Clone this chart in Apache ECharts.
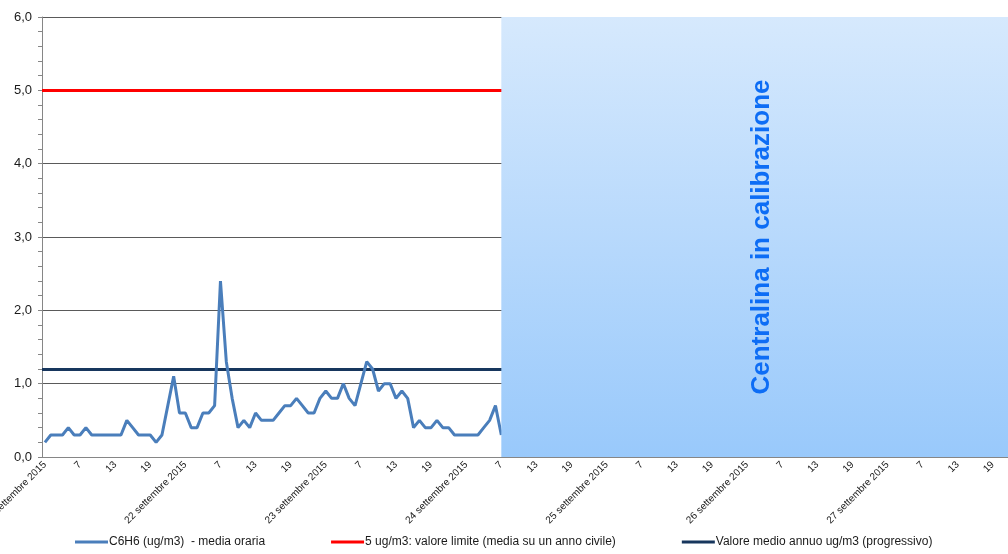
<!DOCTYPE html>
<html>
<head>
<meta charset="utf-8">
<script src="https://cdn.jsdelivr.net/npm/echarts@6/dist/echarts.min.js"></script>
<style>
  html, body { margin: 0; padding: 0; background: #fff; }
  #main { width: 1008px; height: 554px; }
</style>
</head>
<body>
<div id="main"></div>
<script>
// giorni e ore (medie orarie 1..24)
const days = ['21 settembre 2015', '22 settembre 2015', '23 settembre 2015', '24 settembre 2015',
  '25 settembre 2015', '26 settembre 2015', '27 settembre 2015']
const hours = [1, 2, 3, 4, 5, 6, 7, 8, 9, 10, 11, 12, 13, 14, 15, 16, 17, 18, 19, 20, 21, 22, 23, 24]

// C6H6 media oraria (ug/m3), fino all'inizio della calibrazione
const c6h6 = [
  0.2, 0.3, 0.3, 0.3, 0.4, 0.3, 0.3, 0.4, 0.3, 0.3, 0.3, 0.3, 0.3, 0.3, 0.5, 0.4, 0.3, 0.3, 0.3, 0.2, 0.3, 0.7, 1.1, 0.6,
  0.6, 0.4, 0.4, 0.6, 0.6, 0.7, 2.4, 1.3, 0.8, 0.4, 0.5, 0.4, 0.6, 0.5, 0.5, 0.5, 0.6, 0.7, 0.7, 0.8, 0.7, 0.6, 0.6, 0.8,
  0.9, 0.8, 0.8, 1.0, 0.8, 0.7, 1.0, 1.3, 1.2, 0.9, 1.0, 1.0, 0.8, 0.9, 0.8, 0.4, 0.5, 0.4, 0.4, 0.5, 0.4, 0.4, 0.3, 0.3,
  0.3, 0.3, 0.3, 0.4, 0.5, 0.7, 0.3
]
const valoreLimite = 5
const valoreMedioAnnuo = 1.2
const yTicks = [0, 1, 2, 3, 4, 5, 6]
const calibrazioneDa = 77.5   // inizio calibrazione: 24 settembre ore 7

const categories = []
days.forEach(d => hours.forEach(h => categories.push(d + '|' + h)))

const names = ['C6H6 (ug/m3)  - media oraria', '5 ug/m3: valore limite (media su un anno civile)', 'Valore medio annuo ug/m3 (progressivo)']

const myChart = echarts.init(document.getElementById('main'), null, { renderer: 'canvas' })
const option = {
  animation: false,
  backgroundColor: '#ffffff',
  textStyle: { fontFamily: 'Liberation Sans, Arial, sans-serif', color: '#1a1a1a' },
  grid: { left: 42, right: -17, top: 17, bottom: 97, containLabel: false, outerBoundsMode: 'none' },
  legend: {
    data: names,
    left: 70,
    bottom: 1,
    itemGap: 66,
    itemWidth: 33,
    itemHeight: 3,
    icon: 'rect',
    textStyle: { fontSize: 12, color: '#1a1a1a', padding: [0, 0, 0, -4] }
  },
  xAxis: {
    type: 'category',
    data: categories,
    boundaryGap: true,
    axisLine: { lineStyle: { color: '#868686', width: 1 } },
    axisTick: { interval: 5, length: 4, lineStyle: { color: '#868686' } },
    axisLabel: {
      interval: 5,
      rotate: 45,
      fontSize: 10,
      margin: 6,
      color: '#1a1a1a',
      formatter: v => {
        const p = v.split('|')
        return p[1] === '1' ? p[0] : p[1]
      }
    },
    splitLine: { show: false }
  },
  yAxis: {
    type: 'value',
    min: yTicks[0],
    max: yTicks[yTicks.length - 1],
    interval: 1,
    axisLine: { show: true, lineStyle: { color: '#868686' } },
    axisTick: { show: true, length: 4, lineStyle: { color: '#868686' } },
    minorTick: { show: true, splitNumber: 5, length: 4, lineStyle: { color: '#868686' } },
    axisLabel: {
      fontSize: 13,
      margin: 10,
      color: '#1a1a1a',
      formatter: v => v.toFixed(1).replace('.', ',')
    },
    splitLine: { show: true, lineStyle: { color: '#5a5a5a', width: 1 } }
  },
  series: [
    {
      name: names[0],
      type: 'line',
      data: c6h6,
      symbol: 'none',
      z: 3,
      color: '#4a7ebb',
      lineStyle: { color: '#4a7ebb', width: 3 }
    },
    {
      name: names[1],
      type: 'line',
      data: [],
      symbol: 'none',
      z: 3,
      color: '#ff0000',
      lineStyle: { color: '#ff0000', width: 3 },
      markLine: {
        silent: true,
        z: 3,
        symbol: 'none',
        label: { show: false },
        lineStyle: { color: '#ff0000', width: 3, type: 'solid' },
        data: [{ yAxis: valoreLimite }]
      }
    },
    {
      name: names[2],
      type: 'line',
      data: [],
      symbol: 'none',
      z: 3,
      color: '#17365d',
      lineStyle: { color: '#17365d', width: 3 },
      markLine: {
        silent: true,
        z: 3,
        symbol: 'none',
        label: { show: false },
        lineStyle: { color: '#17365d', width: 3, type: 'solid' },
        data: [{ yAxis: valoreMedioAnnuo }]
      }
    },
    {
      name: 'calibrazione',
      type: 'line',
      data: [],
      z: 10,
      markArea: {
        silent: true,
        z: 10,
        itemStyle: {
          color: new echarts.graphic.LinearGradient(0, 0, 0, 1, [
            { offset: 0, color: '#d6e9fd' },
            { offset: 1, color: '#99c9fb' }
          ])
        },
        label: {
          show: true,
          position: 'inside',
          rotate: 90,
          fontSize: 26,
          fontWeight: 'bold',
          color: '#0d6df5',
          fontFamily: 'Liberation Sans, Arial, sans-serif'
        },
        data: [[
          { name: 'Centralina in calibrazione', xAxis: calibrazioneDa, yAxis: yTicks[0] },
          { xAxis: categories.length - 1, yAxis: yTicks[yTicks.length - 1] }
        ]]
      }
    }
  ]
}
myChart.setOption(option)
</script>
</body>
</html>
